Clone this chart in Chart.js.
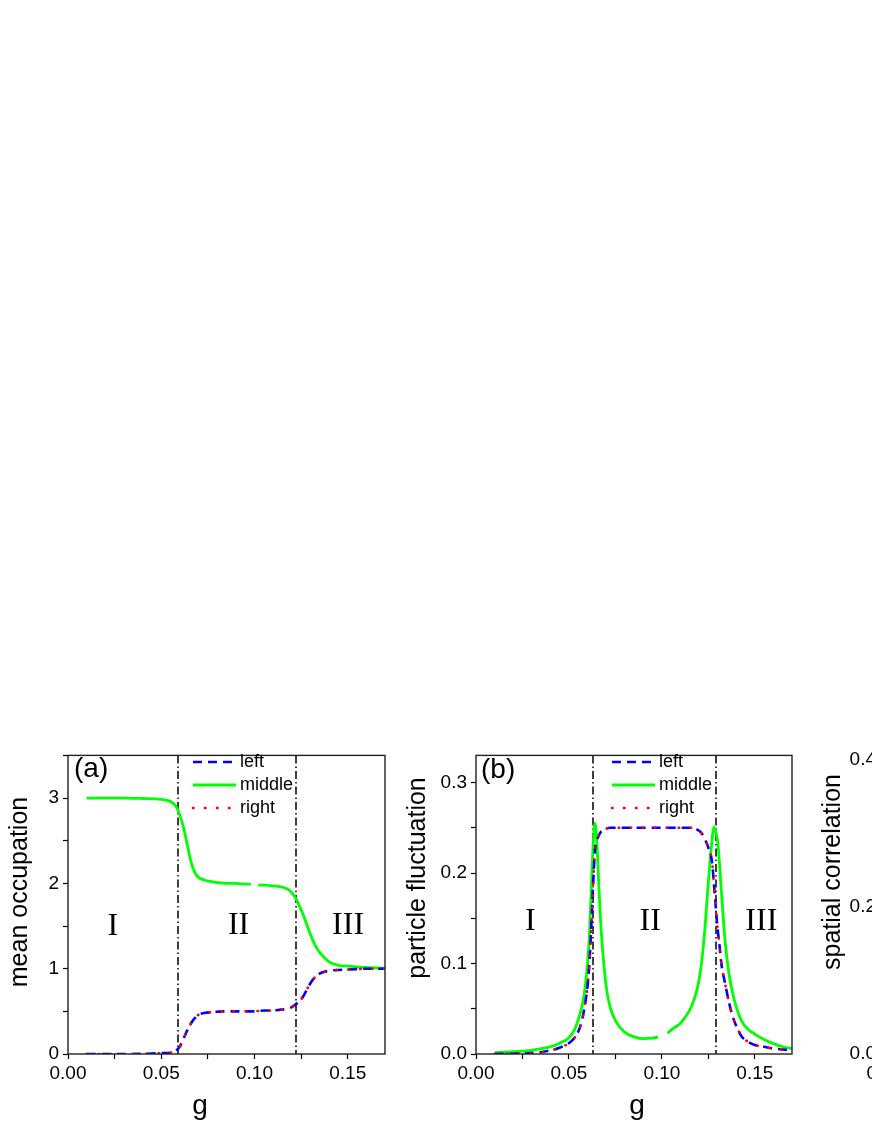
<!DOCTYPE html>
<html>
<head>
<meta charset="utf-8">
<script src="https://cdn.jsdelivr.net/npm/chart.js@4.4.0/dist/chart.umd.min.js"></script>
<style>
html, body { margin: 0; padding: 0; background: #fff; overflow: hidden; width: 872px; height: 1128px; }
canvas { position: absolute; top: 740px; }
#chartA { left: 0; }
#chartB { left: 400px; }
#chartC { left: 800px; }
</style>
</head>
<body>
<canvas id="chartA" width="400" height="388"></canvas>
<canvas id="chartB" width="400" height="388"></canvas>
<canvas id="chartC" width="400" height="388"></canvas>
<script>
// (a) mean occupation
const gA = [0.01, 0.02, 0.03, 0.04, 0.05, 0.055, 0.058, 0.06, 0.062, 0.064,
  0.066, 0.068, 0.07, 0.073, 0.077, 0.08, 0.085, 0.09, 0.095, 0.098,
  0.1, 0.102, 0.106, 0.11, 0.114, 0.118, 0.12, 0.122, 0.124, 0.126,
  0.128, 0.13, 0.132, 0.134, 0.137, 0.14, 0.145, 0.15, 0.155, 0.16,
  0.165, 0.17];
const middleA = [3.0, 3.0, 3.0, 2.995, 2.985, 2.96, 2.9, 2.8, 2.65, 2.45,
  2.25, 2.13, 2.07, 2.04, 2.02, 2.01, 2.0, 2.0, 1.99, 1.99,
  null, 1.98, 1.98, 1.97, 1.96, 1.93, 1.89, 1.83, 1.74, 1.64,
  1.52, 1.40, 1.30, 1.22, 1.14, 1.08, 1.04, 1.03, 1.02, 1.015,
  1.01, 1.005];
const leftA = [0, 0, 0, 0.002, 0.01, 0.015, 0.04, 0.09, 0.18, 0.28,
  0.36, 0.42, 0.46, 0.48, 0.49, 0.495, 0.5, 0.5, 0.5, 0.5,
  0.5, 0.505, 0.51, 0.51, 0.52, 0.53, 0.55, 0.58, 0.62, 0.67,
  0.75, 0.83, 0.89, 0.93, 0.96, 0.975, 0.985, 0.99, 0.995, 1.0,
  1.0, 1.0];
const rightA = [0, 0, 0, 0.002, 0.01, 0.015, 0.04, 0.09, 0.18, 0.28,
  0.36, 0.42, 0.46, 0.48, 0.49, 0.495, 0.5, 0.5, 0.5, 0.5,
  0.5, 0.505, 0.51, 0.51, 0.52, 0.53, 0.55, 0.58, 0.62, 0.67,
  0.75, 0.83, 0.89, 0.93, 0.96, 0.975, 0.985, 0.99, 0.995, 1.0,
  1.0, 1.0];
const phaseA = [0.059, 0.1223];

// (b) particle fluctuation
const gB = [0.01, 0.02, 0.03, 0.035, 0.04, 0.045, 0.05, 0.053, 0.056, 0.058,
  0.06, 0.061, 0.062, 0.063, 0.064, 0.065, 0.066, 0.067, 0.068, 0.07,
  0.072, 0.075, 0.08, 0.085, 0.09, 0.095, 0.098, 0.1, 0.103, 0.106,
  0.11, 0.113, 0.116, 0.119, 0.121, 0.123, 0.125, 0.127, 0.128, 0.129,
  0.13, 0.131, 0.132, 0.134, 0.136, 0.138, 0.14, 0.143, 0.146, 0.15,
  0.155, 0.16, 0.165, 0.17];
const middleB = [0.0015, 0.0025, 0.004, 0.006, 0.008, 0.012, 0.018, 0.027, 0.045, 0.063,
  0.1, 0.13, 0.18, 0.23, 0.255, 0.235, 0.19, 0.148, 0.118, 0.075,
  0.053, 0.037, 0.024, 0.019, 0.017, 0.0175, 0.019, null, 0.023, 0.028,
  0.034, 0.042, 0.053, 0.072, 0.095, 0.135, 0.19, 0.237, 0.251, 0.245,
  0.235, 0.21, 0.18, 0.125, 0.09, 0.068, 0.052, 0.036, 0.028, 0.022,
  0.016, 0.0115, 0.008, 0.006];
const leftB = [0, 0.0003, 0.001, 0.002, 0.004, 0.007, 0.012, 0.018, 0.03, 0.047,
  0.075, 0.1, 0.14, 0.187, 0.225, 0.236, 0.241, 0.245, 0.247, 0.249,
  0.25, 0.25, 0.25, 0.25, 0.25, 0.25, 0.25, 0.25, 0.25, 0.25,
  0.25, 0.25, 0.25, 0.248, 0.245, 0.238, 0.228, 0.212, 0.188, 0.162,
  0.138, 0.12, 0.1, 0.078, 0.058, 0.042, 0.031, 0.019, 0.014, 0.01,
  0.008, 0.006, 0.005, 0.004];
const rightB = [0, 0.0003, 0.001, 0.002, 0.004, 0.007, 0.012, 0.018, 0.03, 0.047,
  0.075, 0.1, 0.14, 0.187, 0.225, 0.236, 0.241, 0.245, 0.247, 0.249,
  0.25, 0.25, 0.25, 0.25, 0.25, 0.25, 0.25, 0.25, 0.25, 0.25,
  0.25, 0.25, 0.25, 0.248, 0.245, 0.238, 0.228, 0.212, 0.188, 0.162,
  0.138, 0.12, 0.1, 0.078, 0.058, 0.042, 0.031, 0.019, 0.014, 0.01,
  0.008, 0.006, 0.005, 0.004];
const phaseB = [0.0628, 0.129];

const seriesNames = ['left', 'middle', 'right'];
const regionNames = ['I', 'II', 'III'];

const SANS = "'Liberation Sans', Arial, sans-serif";
const SERIF = "'Liberation Serif', 'Times New Roman', serif";
Chart.defaults.font.family = SANS;
Chart.defaults.color = '#000';

function pts(xs, ys) {
  return xs.map((x, i) => ({ x: x, y: ys[i] }));
}

function stepLabel(step, digits) {
  return function (value) {
    const k = value / step;
    return Math.abs(k - Math.round(k)) < 1e-6 ? value.toFixed(digits) : '';
  };
}

function lineSets(g, left, middle, right) {
  return [
    { label: seriesNames[0], data: pts(g, left), borderColor: '#0000ff', borderWidth: 2.6,
      borderDash: [9, 6], order: 1 },
    { label: seriesNames[1], data: pts(g, middle), borderColor: '#00ff00', borderWidth: 2.8,
      order: 2 },
    { label: seriesNames[2], data: pts(g, right), borderColor: '#ff0000', borderWidth: 2.6,
      borderDash: [0.5, 11.5], borderCapStyle: 'round', order: 0 }
  ];
}

const decor = {
  id: 'decor',
  beforeDatasetsDraw(chart, args, o) {
    const { ctx, chartArea, scales } = chart;
    ctx.save();
    ctx.strokeStyle = '#000';
    ctx.lineWidth = 1.5;
    ctx.setLineDash([8, 3, 1.5, 3]);
    (o.phases || []).forEach(g => {
      const x = Math.round(scales.x.getPixelForValue(g));
      ctx.beginPath();
      ctx.moveTo(x, chartArea.top);
      ctx.lineTo(x, chartArea.bottom);
      ctx.stroke();
    });
    ctx.restore();
  },
  afterDraw(chart, args, o) {
    const { ctx, chartArea, scales } = chart;
    ctx.save();
    // frame
    ctx.strokeStyle = '#222';
    ctx.lineWidth = 1.4;
    ctx.strokeRect(chartArea.left, chartArea.top, chartArea.right - chartArea.left, chartArea.bottom - chartArea.top);
    ctx.fillStyle = '#000';
    // axis titles
    ctx.font = '25px ' + SANS;
    ctx.textAlign = 'center';
    ctx.textBaseline = 'middle';
    if (o.yTitle) {
      ctx.save();
      ctx.translate(o.yTitle.x, o.yTitle.y);
      ctx.rotate(-Math.PI / 2);
      ctx.fillText(o.yTitle.text, 0, 0);
      ctx.restore();
    }
    if (o.xTitle) {
      ctx.font = '28px ' + SANS;
      ctx.fillText('g', o.xTitle.x, o.xTitle.y);
    }
    // panel letter
    if (o.letter) {
      ctx.font = '28px ' + SANS;
      ctx.textAlign = 'left';
      ctx.fillText(o.letter.text, o.letter.x, o.letter.y);
    }
    // regions
    ctx.font = '32px ' + SERIF;
    ctx.textAlign = 'center';
    (o.regions || []).forEach((r, i) => {
      ctx.fillText(regionNames[i], scales.x.getPixelForValue(r[0]), scales.y.getPixelForValue(r[1]));
    });
    // legend
    if (o.legend) {
      const L = o.legend;
      chart.data.datasets.forEach((ds, i) => {
        const y = L.y + i * L.dy;
        ctx.save();
        ctx.strokeStyle = ds.borderColor;
        ctx.lineWidth = ds.borderWidth;
        ctx.lineCap = ds.borderCapStyle || 'butt';
        ctx.setLineDash(ds.borderDash || []);
        ctx.beginPath();
        ctx.moveTo(L.x, y);
        ctx.lineTo(L.x + 43, y);
        ctx.stroke();
        ctx.restore();
        ctx.font = '18px ' + SANS;
        ctx.textAlign = 'left';
        ctx.fillText(ds.label, L.x + 47, y);
      });
    }
    ctx.restore();
  }
};

function axis(min, max, step, labelStep, digits, size, pad) {
  return {
    type: 'linear', min: min, max: max,
    border: { display: false },
    grid: { drawOnChartArea: false, drawTicks: true, tickLength: 5, color: '#000', tickWidth: 1.2 },
    ticks: { stepSize: step, autoSkip: false, includeBounds: false, padding: pad,
      font: { size: 19 }, color: '#000', callback: stepLabel(labelStep, digits) },
    afterFit: size
  };
}

function makeChart(id, datasets, xr, yr, yw, padTop, padRight, decorOpts) {
  new Chart(document.getElementById(id), {
    type: 'line',
    data: { datasets: datasets },
    options: {
      responsive: false,
      animation: false,
      spanGaps: false,
      layout: { padding: { top: padTop, right: padRight, left: 0, bottom: 0 } },
      elements: { point: { radius: 0 }, line: { cubicInterpolationMode: 'monotone' } },
      scales: {
        x: axis(xr[0], xr[1], xr[2], xr[3], 2, s => { s.height = 74; }, 3),
        y: axis(yr[0], yr[1], yr[2], yr[3], yr[4], s => { s.width = yw; }, 4)
      },
      plugins: { legend: { display: false }, tooltip: { enabled: false }, decor: decorOpts }
    },
    plugins: [decor]
  });
}

makeChart('chartA', lineSets(gA, leftA, middleA, rightA),
  [0, 0.17, 0.025, 0.05], [0, 3.5, 0.5, 1, 0], 68, 6, 15, {
    phases: phaseA,
    yTitle: { text: 'mean occupation', x: 20, y: 152 },
    xTitle: { x: 200, y: 366 },
    letter: { text: '(a)', x: 74, y: 29 },
    regions: [[0.024, 1.49], [0.0915, 1.5], [0.1502, 1.5]],
    legend: { x: 193, y: 22, dy: 23 }
  });

makeChart('chartB', lineSets(gB, leftB, middleB, rightB),
  [0, 0.17, 0.025, 0.05], [0, 0.33, 0.05, 0.1, 1], 76, 6, 8, {
    phases: phaseB,
    yTitle: { text: 'particle fluctuation', x: 18, y: 138 },
    xTitle: { x: 237, y: 366 },
    letter: { text: '(b)', x: 81, y: 30 },
    regions: [[0.0292, 0.146], [0.0937, 0.146], [0.1535, 0.146]],
    legend: { x: 212, y: 22, dy: 23 }
  });

makeChart('chartC', [],
  [0, 0.17, 0.025, 0.05], [0, 0.4, 0.1, 0.2, 1], 85, 20, 8, {
    yTitle: { text: 'spatial correlation', x: 33, y: 132 },
    xTitle: { x: 240, y: 366 }
  });
</script>
</body>
</html>
